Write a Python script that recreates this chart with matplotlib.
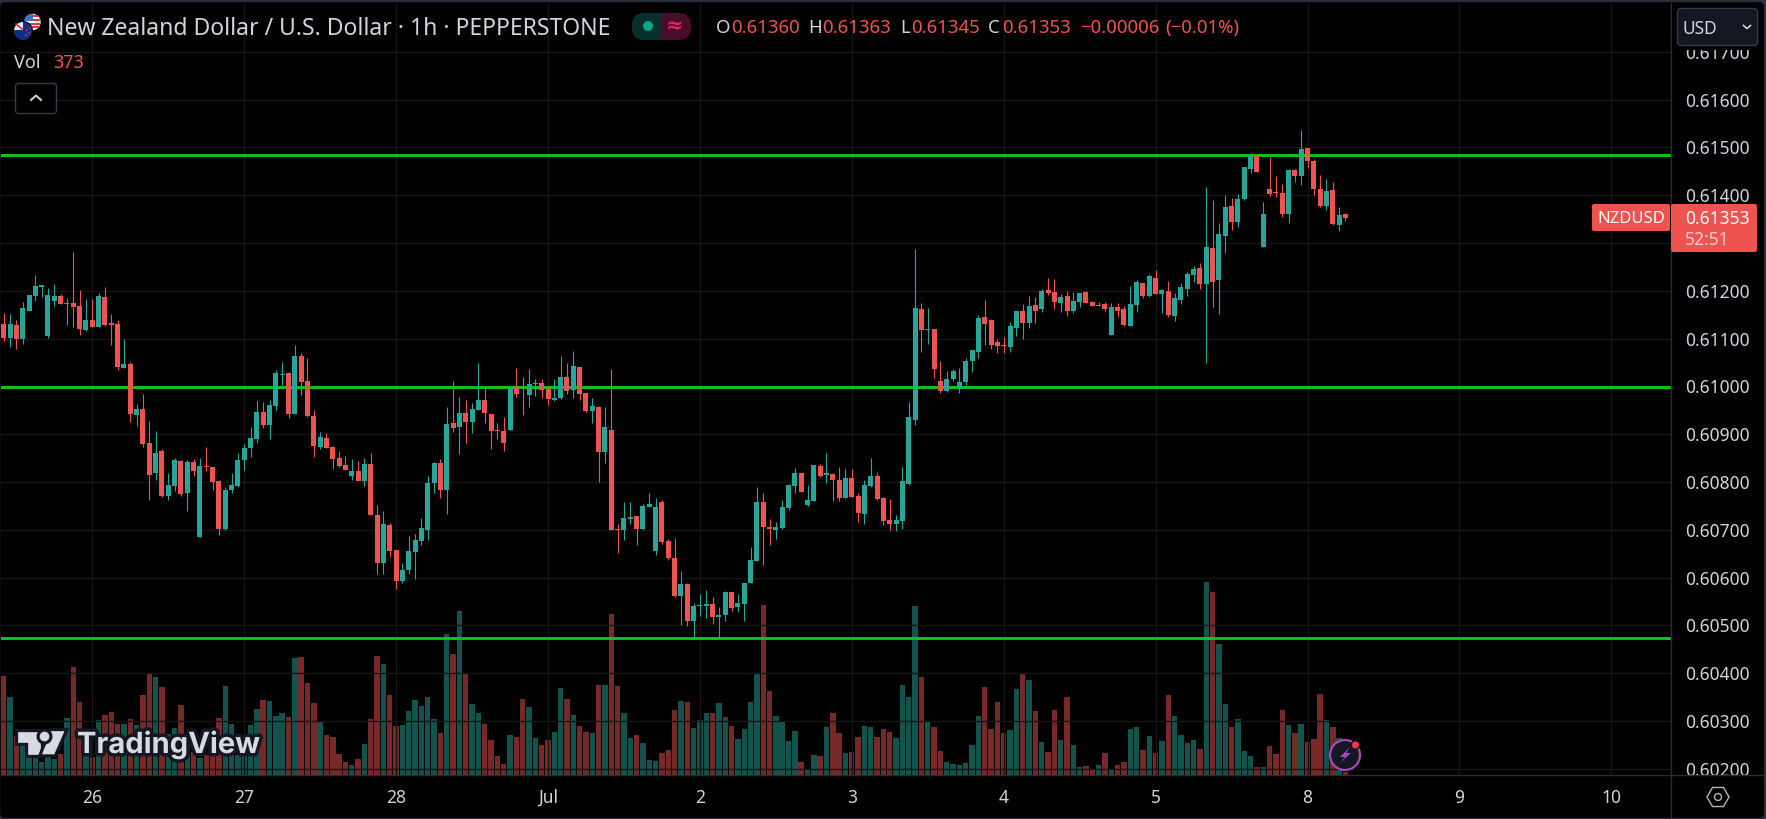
import numpy as np
import matplotlib
matplotlib.use("Agg")
import matplotlib.pyplot as plt
import matplotlib.patheffects as pe
from matplotlib.patches import Circle, FancyBboxPatch, Polygon, Rectangle, RegularPolygon

# NZD/USD 1h, prices in 1e-5 (pipettes)
opens = [
    61131, 61102, 61129, 61098, 61158, 61190, 61207, 61106, 61179, 61188,
    61173, 61175, 61169, 61117, 61138, 61125, 61186, 61133, 61131, 61039,
    61046, 60941, 60953, 60882, 60818, 60864, 60771, 60792, 60843, 60776,
    60841, 60684, 60834, 60832, 60801, 60702, 60784, 60792, 60845, 60870,
    60889, 60947, 60920, 60958, 61023, 61027, 60943, 61064, 61012, 60937,
    60874, 60891, 60874, 60851, 60836, 60813, 60822, 60801, 60838, 60731,
    60631, 60710, 60658, 60593, 60616, 60654, 60677, 60700, 60798, 60840,
    60784, 60924, 60915, 60945, 60926, 60951, 60972, 60943, 60909, 60907,
    60909, 60998, 60987, 60982, 61005, 61007, 60995, 60972, 60976, 61020,
    60993, 61041, 60987, 60949, 60957, 60863, 60909, 60702, 60700, 60723,
    60729, 60702, 60748, 60656, 60758, 60677, 60641, 60562, 60587, 60509,
    60541, 60541, 60545, 60518, 60522, 60570, 60539, 60545, 60589, 60635,
    60758, 60706, 60700, 60704, 60746, 60792, 60819, 60752, 60761, 60834,
    60815, 60817, 60804, 60767, 60809, 60771, 60732, 60792, 60813, 60767,
    60721, 60711, 60719, 60796, 60930, 61161, 61117, 61119, 61012, 60991,
    61016, 60995, 61008, 61052, 61071, 61144, 61138, 61092, 61087, 61083,
    61123, 61158, 61133, 61171, 61161, 61202, 61198, 61175, 61188, 61158,
    61177, 61198, 61177, 61169, 61173, 61108, 61165, 61161, 61127, 61171,
    61217, 61188, 61227, 61194, 61200, 61148, 61181, 61204, 61232, 61248,
    61214, 61289, 61222, 61315, 61377, 61344, 61392, 61455, 61482, 61292,
    61413, 61407, 61404, 61361, 61453, 61440, 61499, 61471, 61413, 61377,
    61411, 61338, 61360,
]
closes = [
    61102, 61131, 61098, 61163, 61192, 61209, 61213, 61192, 61188, 61173,
    61175, 61167, 61119, 61138, 61125, 61188, 61129, 61129, 61041, 61046,
    60943, 60953, 60880, 60815, 60861, 60771, 60794, 60845, 60774, 60841,
    60822, 60834, 60832, 60799, 60702, 60784, 60794, 60845, 60872, 60891,
    60947, 60920, 60960, 61027, 61025, 60943, 61064, 61008, 60937, 60876,
    60893, 60872, 60847, 60834, 60824, 60822, 60801, 60838, 60730, 60631,
    60712, 60656, 60593, 60616, 60656, 60679, 60704, 60798, 60840, 60784,
    60922, 60913, 60945, 60926, 60953, 60972, 60945, 60907, 60907, 60882,
    60998, 60984, 60985, 61005, 61007, 60993, 60974, 60976, 61020, 60991,
    61043, 60984, 60949, 60959, 60863, 60915, 60700, 60700, 60725, 60727,
    60702, 60750, 60754, 60748, 60675, 60641, 60562, 60587, 60509, 60541,
    60543, 60545, 60518, 60522, 60570, 60537, 60547, 60589, 60637, 60758,
    60706, 60702, 60706, 60748, 60794, 60819, 60779, 60763, 60836, 60813,
    60819, 60804, 60767, 60809, 60769, 60734, 60794, 60813, 60765, 60719,
    60711, 60721, 60801, 60935, 61163, 61117, 61119, 61037, 60991, 61016,
    61033, 61010, 61054, 61075, 61142, 61131, 61087, 61085, 61085, 61127,
    61158, 61133, 61169, 61158, 61200, 61196, 61177, 61186, 61158, 61179,
    61196, 61175, 61169, 61171, 61161, 61165, 61158, 61129, 61173, 61219,
    61188, 61230, 61194, 61202, 61150, 61184, 61207, 61236, 61246, 61215,
    61292, 61218, 61319, 61375, 61344, 61392, 61459, 61482, 61448, 61361,
    61402, 61405, 61361, 61453, 61440, 61497, 61471, 61413, 61377, 61409,
    61340, 61358, 61353,
]
highs = [
    61154, 61152, 61138, 61177, 61192, 61232, 61213, 61205, 61215, 61194,
    61184, 61280, 61202, 61182, 61182, 61196, 61207, 61152, 61138, 61100,
    61050, 60964, 60983, 60928, 60907, 60868, 60818, 60849, 60845, 60845,
    60847, 60851, 60874, 60832, 60805, 60790, 60818, 60861, 60880, 60914,
    60970, 60968, 60972, 61035, 61050, 61031, 61087, 61069, 61060, 60951,
    60905, 60903, 60876, 60864, 60855, 60847, 60843, 60849, 60861, 60752,
    60740, 60715, 60658, 60631, 60687, 60692, 60725, 60813, 60842, 60848,
    60957, 61012, 60978, 60972, 60966, 61049, 61001, 60943, 60924, 60936,
    60999, 61039, 61020, 61037, 61016, 61016, 61001, 61016, 61064, 61049,
    61074, 61041, 60987, 60976, 60959, 60957, 61037, 60712, 60758, 60758,
    60729, 60754, 60777, 60767, 60763, 60681, 60683, 60614, 60589, 60547,
    60566, 60574, 60560, 60539, 60572, 60570, 60566, 60589, 60664, 60790,
    60777, 60723, 60717, 60763, 60796, 60830, 60821, 60794, 60836, 60838,
    60861, 60819, 60832, 60828, 60826, 60776, 60805, 60849, 60820, 60769,
    60765, 60730, 60832, 60968, 61288, 61175, 61163, 61119, 61052, 61033,
    61037, 61039, 61060, 61077, 61150, 61181, 61140, 61100, 61104, 61135,
    61158, 61173, 61188, 61186, 61204, 61227, 61225, 61194, 61200, 61198,
    61196, 61200, 61179, 61177, 61177, 61175, 61175, 61169, 61209, 61223,
    61217, 61236, 61244, 61204, 61221, 61196, 61217, 61240, 61251, 61259,
    61417, 61390, 61342, 61400, 61394, 61402, 61459, 61488, 61484, 61386,
    61480, 61440, 61423, 61455, 61455, 61536, 61499, 61476, 61442, 61434,
    61427, 61375, 61363,
]
lows = [
    61094, 61083, 61079, 61089, 61158, 61179, 61186, 61102, 61169, 61173,
    61129, 61125, 61108, 61115, 61125, 61125, 61127, 61087, 61035, 61039,
    60926, 60916, 60874, 60763, 60803, 60769, 60763, 60780, 60771, 60740,
    60813, 60684, 60822, 60784, 60688, 60700, 60776, 60790, 60824, 60853,
    60882, 60912, 60889, 60951, 61002, 60933, 60943, 60981, 60935, 60853,
    60868, 60870, 60826, 60832, 60824, 60803, 60801, 60792, 60730, 60608,
    60608, 60643, 60576, 60589, 60608, 60597, 60669, 60679, 60777, 60767,
    60733, 60905, 60859, 60882, 60903, 60951, 60924, 60869, 60890, 60865,
    60909, 60978, 60940, 60957, 60980, 60976, 60961, 60970, 60974, 60984,
    60976, 60972, 60947, 60924, 60800, 60840, 60700, 60652, 60679, 60712,
    60668, 60700, 60748, 60648, 60671, 60637, 60560, 60501, 60499, 60476,
    60520, 60516, 60503, 60476, 60509, 60530, 60528, 60509, 60589, 60635,
    60627, 60668, 60681, 60702, 60742, 60777, 60779, 60750, 60761, 60811,
    60798, 60761, 60761, 60767, 60769, 60717, 60711, 60790, 60763, 60709,
    60700, 60698, 60702, 60794, 60920, 61071, 61089, 61018, 60987, 60989,
    61012, 60987, 61002, 61031, 61060, 61087, 61079, 61069, 61069, 61071,
    61106, 61098, 61121, 61133, 61156, 61192, 61161, 61156, 61148, 61154,
    61165, 61175, 61169, 61169, 61158, 61108, 61146, 61127, 61127, 61156,
    61184, 61186, 61194, 61154, 61144, 61137, 61173, 61190, 61219, 61204,
    61049, 61166, 61151, 61279, 61327, 61333, 61390, 61446, 61448, 61292,
    61398, 61396, 61354, 61342, 61427, 61421, 61457, 61400, 61375, 61369,
    61338, 61325, 61345,
]
volumes = [
    11880, 9360, 4680, 4000, 2200, 2200, 1560, 2200, 1920, 2520,
    6840, 12960, 8760, 2800, 2200, 6600, 7200, 7560, 6120, 6120,
    6720, 6000, 9600, 12240, 11760, 10560, 4920, 5640, 8400, 4000,
    2800, 2040, 2400, 2400, 6840, 10680, 6120, 2400, 4800, 6000,
    7920, 9000, 8880, 7080, 7440, 6960, 14040, 14160, 11040, 8640,
    6360, 4800, 4560, 2520, 1560, 1200, 1920, 3720, 6720, 14280,
    13320, 9600, 5880, 6000, 7680, 9000, 8280, 9360, 6720, 5040,
    16920, 14520, 19680, 12120, 8520, 7440, 6120, 4200, 2280, 1320,
    4800, 4560, 9120, 8160, 4440, 3600, 4200, 5160, 10440, 9120,
    7200, 5880, 5160, 5040, 10800, 10800, 19320, 10680, 7440, 4440,
    4800, 3840, 1800, 1680, 2640, 3000, 7800, 8880, 8760, 5640,
    6600, 7440, 7440, 8640, 6960, 5880, 4320, 5520, 8760, 12240,
    20400, 10080, 7080, 6480, 4080, 5280, 1560, 600, 2400, 2280,
    5760, 7440, 5040, 2640, 2760, 4560, 5880, 5760, 4560, 5520,
    5160, 4440, 10800, 9360, 20280, 11760, 6480, 5760, 2880, 1560,
    1320, 1200, 1440, 3600, 7080, 10560, 5520, 8760, 5040, 5400,
    10320, 12120, 11400, 7680, 3960, 2760, 7800, 4200, 9360, 3600,
    960, 1080, 720, 1200, 2640, 600, 1200, 1560, 5520, 5760,
    3000, 4680, 2640, 4080, 9600, 7080, 4800, 3840, 4200, 3120,
    23160, 21960, 15720, 8520, 5760, 6720, 2880, 2280, 960, 960,
    3480, 2520, 7800, 6000, 5040, 6120, 3960, 4320, 9720, 6600,
    5760, 4440, 373,
]
level_prices = [61483, 60998, 60474]
day_bars = [14, 38, 62, 86, 110, 134, 158, 182, 206, 230, 254]
day_labels = ["26", "27", "28", "Jul", "2", "3", "4", "5", "8", "9", "10"]
price_ticks = [0.602, 0.603, 0.604, 0.605, 0.606, 0.607, 0.608, 0.609,
               0.610, 0.611, 0.612, 0.613, 0.614, 0.615, 0.616, 0.617]

GREEN = "#26a69a"
RED = "#ef5350"
TEXT = "#d1d4dc"
FRAME = "#2a2e39"
SEP = "#2b2b2b"
GRID = "#151515"
FONT = "Noto Sans"

plt.rcParams["font.family"] = [FONT, "DejaVu Sans"]

W, H = 1766, 819
fig = plt.figure(figsize=(W / 100, H / 100), dpi=100, facecolor=FRAME)

bg = fig.add_axes([0, 0, 1, 1], zorder=0)
bg.set_xlim(0, W)
bg.set_ylim(H, 0)
bg.axis("off")
bg.add_patch(FancyBboxPatch((3, 5), 1758, 810, boxstyle="round,pad=0,rounding_size=1",
                            mutation_aspect=1, fc="black", ec="black", lw=4))

o = np.array(opens) / 1e5
c = np.array(closes) / 1e5
h = np.array(highs) / 1e5
l = np.array(lows) / 1e5
bars = np.arange(len(o))
colors = [GREEN if c[i] >= o[i] else RED for i in bars]

rect = [1 / W, (H - 775) / H, 1670 / W, 772 / H]
xlim = (-0.425, 263.43)

# volume pane sits under the price pane
vol_ax = fig.add_axes(rect, zorder=1)
vol_ax.set_facecolor("none")
vol_ax.bar(bars, volumes, width=0.85, color=colors, alpha=0.5, linewidth=0)
vol_ax.set_xlim(xlim)
vol_ax.set_ylim(0, 92640)
vol_ax.axis("off")

ax = fig.add_axes(rect, zorder=2)
ax.set_facecolor("none")
for p in level_prices:
    ax.axhline(p / 1e5, color="#0ac814", lw=2.1, zorder=2)
ax.vlines(bars, l, h, colors=colors, lw=0.8, zorder=3)
ax.bar(bars, np.abs(c - o), bottom=np.minimum(o, c), width=0.79, color=colors,
       linewidth=0, zorder=4)

ax.set_xlim(xlim)
ax.set_ylim(0.601868, 0.618020)
ax.yaxis.tick_right()
ax.set_yticks(price_ticks, [f"{t:.5f}" for t in price_ticks])
ax.set_xticks(day_bars, day_labels)
ax.tick_params(axis="y", length=0, pad=10, labelsize=12.5, labelcolor=TEXT)
ax.tick_params(axis="x", length=0, pad=10, labelsize=12.5, labelcolor=TEXT)
ax.grid(True, color=GRID, lw=1)
ax.set_axisbelow(True)
for name, sp in ax.spines.items():
    sp.set_visible(name in ("right", "bottom"))
    sp.set_color(SEP)
    sp.set_linewidth(1)

# overlay in screen pixels for the TradingView interface bits
ov = fig.add_axes([0, 0, 1, 1], zorder=5)
ov.set_xlim(0, W)
ov.set_ylim(H, 0)
ov.axis("off")
ov.patch.set_visible(False)
ov.plot([1671, 1671], [775, 817], color=SEP, lw=1)
ov.plot([1671, 1763], [775, 775], color=SEP, lw=1)

# flags
us = Circle((32.5, 22), 8.2, fc="white", ec="none")
ov.add_patch(us)
for yy in (15, 18.8, 22.6, 26.4):
    ov.add_patch(Rectangle((24, yy), 17, 1.9, fc="#e0393e", ec="none", clip_path=us))
ov.add_patch(Rectangle((24, 13), 8.5, 8, fc="#3d6fc4", ec="none", clip_path=us))
ov.add_patch(Circle((23, 31), 10, fc="black", ec="none"))
nz = Circle((23, 31), 9, fc="#0d2f86", ec="none")
ov.add_patch(nz)
ov.add_patch(Rectangle((14, 22), 9, 8, fc="#e6e6ef", ec="none", clip_path=nz))
ov.plot([16, 22], [24, 29], color="#d6304a", lw=1.2)
for dx, dy in ((27, 30), (30, 28), (26, 35), (29, 33)):
    ov.add_patch(Circle((dx, dy), 0.9, fc="#d6304a", ec="none"))

ov.text(47, 29, "New Zealand Dollar / U.S. Dollar · 1h · PEPPERSTONE", color=TEXT,
        fontsize=16.5, va="center", ha="left")

# market status pill
pill = FancyBboxPatch((632, 13), 59, 27, boxstyle="round,pad=0,rounding_size=13",
                      fc="#4a0d28", ec="none")
ov.add_patch(pill)
ov.add_patch(Rectangle((632, 13), 30, 27, fc="#05302b", ec="none", clip_path=pill))
ov.add_patch(Circle((648, 26), 5, fc="#0da58a", ec="none"))
ov.text(675, 26, "≈", color="#e91e63", fontsize=15, ha="center", va="center",
        family="DejaVu Sans", fontweight="bold")

# OHLC legend
ohlc_parts = [
    (716, "O", TEXT), (731, "0.61360", RED), (808, "H", TEXT), (822, "0.61363", RED),
    (900, "L", TEXT), (911, "0.61345", RED), (988, "C", TEXT), (1002, "0.61353", RED),
    (1080, "−0.00006", RED), (1165, "(−0.01%)", RED),
]
for xx, s, col in ohlc_parts:
    ov.text(xx, 28, s, color=col, fontsize=13.4, va="center", ha="left")
ov.text(14.5, 63, "Vol", color=TEXT, fontsize=13, va="center", ha="left")
ov.text(53, 63, "373", color=RED, fontsize=13, va="center", ha="left")

# collapse button
ov.add_patch(FancyBboxPatch((15.5, 83.5), 41, 30, boxstyle="round,pad=0,rounding_size=3",
                            fc="black", ec="#363a45", lw=1))
ov.plot([31, 36, 41], [100, 95.5, 100], color=TEXT, lw=1.4)

# USD button, hides the top of the 0.61700 label
ov.add_patch(Rectangle((1672, 4), 90, 46, fc="black", ec="none"))
ov.add_patch(FancyBboxPatch((1677.5, 8.5), 80, 37, boxstyle="round,pad=0,rounding_size=4",
                            fc="#131722", ec="#363a45", lw=1))
ov.text(1682, 28.5, "USD", color=TEXT, fontsize=12.5, va="center", ha="left")
ov.plot([1743.5, 1747, 1750.5], [25.5, 28.5, 25.5], color=TEXT, lw=1.2)

# last price labels
ov.add_patch(FancyBboxPatch((1592, 204), 78, 27, boxstyle="round,pad=0,rounding_size=2",
                            fc=RED, ec="none"))
ov.add_patch(FancyBboxPatch((1671, 204), 86, 48, boxstyle="round,pad=0,rounding_size=2",
                            fc=RED, ec="none"))
ov.text(1631, 219, "NZDUSD", color="white", fontsize=12, ha="center", va="center")
ov.text(1685, 219, "0.61353", color="white", fontsize=12.5, ha="left", va="center")
ov.text(1685, 240, "52:51", color="#fbcfce", fontsize=12.5, ha="left", va="center")

# TradingView watermark
outline = [pe.withStroke(linewidth=5, foreground="#131722")]
logo = [
    Polygon([(18, 731.5), (39.5, 731.5), (39.5, 754), (27.5, 754), (27.5, 741.5), (18, 741.5)]),
    Polygon([(51.5, 731.5), (64, 731.5), (54, 754), (42.5, 754)]),
    Circle((44.5, 736.5), 4.5),
]
for shape in logo:
    shape.set(fc="#d8d9e3", ec="#d8d9e3", lw=0.5, path_effects=outline)
    ov.add_patch(shape)
ov.text(77, 745, "TradingView", color="#d8d9e3", fontsize=21, fontweight="bold",
        family="Inter", ha="left", va="center", path_effects=outline)

# lightning badge
ov.add_patch(Circle((1345, 755), 15, fc="#131722", ec="#ab47bc", lw=1.6))
ov.add_patch(Polygon([(1350, 747), (1340, 757), (1345, 757), (1340, 763),
                      (1351, 753), (1346, 753)], fc="#ab47bc", ec="none"))
ov.add_patch(Circle((1355.5, 745), 5, fc="#131722", ec="none"))
ov.add_patch(Circle((1355.5, 745), 3.5, fc="#f23645", ec="none"))

# settings gear
ov.add_patch(RegularPolygon((1718, 797), 6, radius=11, orientation=np.pi / 6,
                            fc="none", ec="#b2b5be", lw=1))
ov.add_patch(Circle((1718, 797), 3.5, fc="none", ec="#b2b5be", lw=1))

fig.savefig("out.png", dpi=100, facecolor=fig.get_facecolor())
